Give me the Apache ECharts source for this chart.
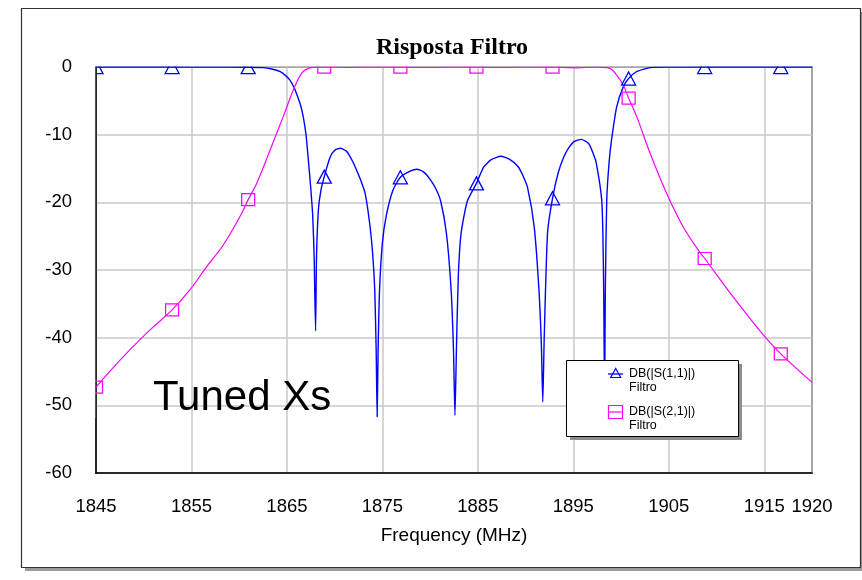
<!DOCTYPE html>
<html>
<head>
<meta charset="utf-8">
<script src="https://cdn.jsdelivr.net/npm/echarts@6/dist/echarts.min.js"></script>
<style>
  html, body { margin: 0; padding: 0; background: #fff; }
  #chart { width: 862px; height: 580px; }
</style>
</head>
<body>
<div id="chart"></div>
<script>
// Filter response: return loss S11 and transmission S21 in dB versus frequency (MHz)
const s11Freq = [1845, 1849, 1852.97, 1857, 1860.94, 1862.5, 1863.4, 1864.3, 1864.8, 1865.3, 1865.7, 1866.0,
  1866.4, 1866.7, 1867.0, 1867.24, 1867.5, 1867.7, 1867.85, 1868.0, 1868.1, 1868.3, 1868.55, 1868.91,
  1869.5, 1870.0, 1870.6, 1871.2, 1871.6, 1872.0, 1872.4, 1872.8, 1873.2, 1873.7, 1874.0, 1874.2,
  1874.35, 1874.45, 1874.55, 1874.7, 1875.0, 1875.4, 1876.1, 1876.88, 1877.9, 1878.6, 1879.3, 1880.0,
  1880.6, 1881.1, 1881.7, 1882.2, 1882.45, 1882.6, 1882.75, 1882.95, 1883.25, 1883.9, 1884.85, 1885.6,
  1886.4, 1887.4, 1888.3, 1889.2, 1889.7, 1890.2, 1890.9, 1891.4, 1891.65, 1891.8, 1891.95, 1892.3,
  1892.82, 1893.4, 1894.0, 1894.5, 1895.1, 1895.8, 1896.6, 1897.0, 1897.4, 1897.97, 1898.1, 1898.18,
  1898.23, 1898.27, 1898.31, 1898.36, 1898.5, 1898.75, 1899.0, 1899.54, 1900.24, 1900.79, 1901.6, 1902.7,
  1903.4, 1905, 1908.76, 1912, 1916.73, 1920];
const s11Db = [-0.01, -0.01, -0.01, -0.02, -0.03, -0.1, -0.3, -0.7, -1.2, -1.9, -2.9, -3.9,
  -5.5, -7.3, -10.0, -13.7, -18, -22, -28, -39, -28, -21, -18.3, -16.2,
  -13.4, -12.3, -12.0, -12.4, -13.2, -14.3, -15.6, -17.0, -18.7, -23.5, -28, -33,
  -42, -51.7, -42, -33, -26, -22, -18.2, -16.3, -15.4, -15.1, -15.5, -16.6,
  -18.0, -19.8, -24.5, -33, -42, -51.5, -42, -31, -24.5, -19.8, -17.2, -14.8,
  -13.7, -13.2, -13.6, -14.7, -16.0, -17.8, -23.6, -33, -41, -49.5, -40, -24.5,
  -19.4, -15.7, -13.3, -12.0, -11.0, -10.7, -11.3, -12.5, -14.2, -19.6, -25, -33,
  -42, -52, -42, -32, -19.6, -14.0, -10.8, -5.9, -2.9, -1.7, -0.7, -0.2,
  -0.05, -0.02, -0.01, -0.01, -0.01, -0.01];

const s21Freq = [1845, 1847.86, 1850.66, 1852.97, 1854.85, 1856.6, 1858.33, 1860.08, 1860.94, 1861.83,
  1863.23, 1864.62, 1865.67, 1866.54, 1867.24, 1868.0, 1868.91, 1871.5, 1874.5, 1876.88, 1880.5, 1882.6,
  1884.85, 1887.5, 1891.8, 1892.82, 1895.5, 1897.0, 1897.8, 1898.84, 1899.54, 1900.24, 1900.79, 1901.63,
  1903.03, 1904.78, 1906.5, 1908.3, 1908.76, 1911.7, 1914.9, 1916.73, 1920];
const s21Db = [-47.3, -42.8, -38.85, -35.9, -32.9, -29.5, -26.3, -22.1, -19.6, -17.2,
  -12.3, -7.3, -3.4, -0.9, -0.2, -0.05, -0.02, -0.05, -0.01, -0.02, -0.06, -0.01,
  -0.02, -0.07, -0.01, -0.02, -0.12, -0.03, -0.05, -0.2, -1.2, -2.7, -4.6, -7.3,
  -12.7, -18.7, -23.6, -27.5, -28.3, -33.9, -39.6, -42.4, -46.6];

// Frequencies that carry a marker symbol on both traces
const markerFreqs = [1845, 1852.97, 1860.94, 1868.91, 1876.88, 1884.85, 1892.82, 1900.79, 1908.76, 1916.73];

const seriesNames = ['DB(|S(1,1)|)', 'DB(|S(2,1)|)'];
const seriesSource = ['Filtro', 'Filtro'];
const seriesColors = ['#0000ff', '#ff00ff'];

const FONT = '"Liberation Sans", Arial, sans-serif';

function pairs(xs, ys) { return xs.map((x, i) => [x, ys[i]]); }
function isMarker(f) { return markerFreqs.some(m => Math.abs(m - f) < 1e-6); }

const chart = echarts.init(document.getElementById('chart'), null, { renderer: 'canvas' });

// legend box geometry
const LX = 566, LY = 360, LW = 172, LH = 76;

const option = {
  animation: false,
  backgroundColor: '#fff',
  title: {
    text: 'Risposta Filtro',
    left: 452, top: 36, padding: 0, textAlign: 'center',
    textStyle: { fontFamily: '"Liberation Serif", "Times New Roman", serif', fontWeight: 'bold', fontSize: 24, color: '#000' }
  },
  grid: { left: 96, right: 50, top: 67, bottom: 107, show: true, borderColor: '#000', borderWidth: 1.5, backgroundColor: 'transparent' },
  xAxis: {
    type: 'value', min: 1845, max: 1920, interval: 10,
    name: 'Frequency (MHz)', nameLocation: 'middle', nameGap: 53,
    nameTextStyle: { fontFamily: FONT, fontSize: 19, color: '#000' },
    axisLine: { show: true, onZero: false, lineStyle: { color: '#000', width: 1.5 } },
    axisTick: { show: false },
    axisLabel: { fontFamily: FONT, fontSize: 18.5, color: '#000', margin: 24, formatter: (v) => String(v) },
    splitLine: { show: true, lineStyle: { color: '#c8c8c8', width: 1.5 } }
  },
  yAxis: {
    type: 'value', min: -60, max: 0, interval: 10,
    axisLine: { show: true, onZero: false, lineStyle: { color: '#000', width: 1.5 } },
    axisTick: { show: false },
    axisLabel: { fontFamily: FONT, fontSize: 18.5, color: '#000', margin: 24, formatter: (v) => String(v) },
    splitLine: { show: true, lineStyle: { color: '#c8c8c8', width: 1.5 } }
  },
  series: [
    {
      type: 'line', name: seriesNames[0], data: pairs(s11Freq, s11Db),
      symbol: (v) => isMarker(v[0]) ? 'triangle' : 'none',
      symbolSize: [14, 13], showAllSymbol: true, silent: true, z: 3,
      smooth: 0.2,
      lineStyle: { color: seriesColors[0], width: 1.4 },
      itemStyle: { color: 'rgba(0,0,0,0)', borderColor: seriesColors[0], borderWidth: 1.3 },
      emphasis: { disabled: true }
    },
    {
      type: 'line', name: seriesNames[1], data: pairs(s21Freq, s21Db),
      symbol: (v) => isMarker(v[0]) ? 'rect' : 'none',
      symbolSize: [13, 12], showAllSymbol: true, silent: true, z: 3,
      smooth: 0.35,
      lineStyle: { color: seriesColors[1], width: 1.2 },
      itemStyle: { color: 'rgba(0,0,0,0)', borderColor: seriesColors[1], borderWidth: 1.2 },
      emphasis: { disabled: true }
    }
  ],
  graphic: [
    // outer frame with drop shadow
    { type: 'rect', z: -11, silent: true, shape: { x: 25, y: 12, width: 840, height: 559 }, style: { fill: '#9a9a9a' } },
    { type: 'rect', z: -10, silent: true, shape: { x: 21.5, y: 8.5, width: 839, height: 559 }, style: { fill: '#fff', stroke: '#333', lineWidth: 1.2 } },
    // masks so markers sitting on the plot edge are cut at the frame
    { type: 'rect', z: 5, silent: true, shape: { x: 80, y: 58, width: 740, height: 8.2 }, style: { fill: '#fff' } },
    { type: 'rect', z: 5, silent: true, shape: { x: 80, y: 58, width: 15.2, height: 360 }, style: { fill: '#fff' } },
    // annotation
    { type: 'text', z: 10, silent: true, x: 153, y: 398, style: { text: 'Tuned Xs', font: '42px ' + FONT, fill: '#000', verticalAlign: 'middle' } },
    // legend box
    { type: 'rect', z: 20, silent: true, shape: { x: LX + 4, y: LY + 4, width: LW, height: LH }, style: { fill: '#8c8c8c' } },
    { type: 'rect', z: 21, silent: true, shape: { x: LX + 0.5, y: LY + 0.5, width: LW, height: LH }, style: { fill: '#fff', stroke: '#000', lineWidth: 1 } },
    { type: 'line', z: 22, silent: true, shape: { x1: 608, y1: 374, x2: 623, y2: 374 }, style: { stroke: seriesColors[0], lineWidth: 1.3 } },
    { type: 'polygon', z: 22, silent: true, shape: { points: [[615.7, 368.5], [610.7, 377.5], [620.7, 377.5]] }, style: { fill: 'none', stroke: seriesColors[0], lineWidth: 1.2 } },
    { type: 'text', z: 22, silent: true, x: 629, y: 374, style: { text: seriesNames[0], font: '12.5px ' + FONT, fill: '#000', verticalAlign: 'middle' } },
    { type: 'text', z: 22, silent: true, x: 629, y: 388, style: { text: seriesSource[0], font: '12.5px ' + FONT, fill: '#000', verticalAlign: 'middle' } },
    { type: 'line', z: 22, silent: true, shape: { x1: 608, y1: 412, x2: 623, y2: 412 }, style: { stroke: seriesColors[1], lineWidth: 1.2 } },
    { type: 'rect', z: 22, silent: true, shape: { x: 608.5, y: 405.5, width: 14, height: 13 }, style: { fill: 'none', stroke: seriesColors[1], lineWidth: 1.2 } },
    { type: 'text', z: 22, silent: true, x: 629, y: 412, style: { text: seriesNames[1], font: '12.5px ' + FONT, fill: '#000', verticalAlign: 'middle' } },
    { type: 'text', z: 22, silent: true, x: 629, y: 426, style: { text: seriesSource[1], font: '12.5px ' + FONT, fill: '#000', verticalAlign: 'middle' } }
  ]
};

chart.setOption(option);
</script>
</body>
</html>
